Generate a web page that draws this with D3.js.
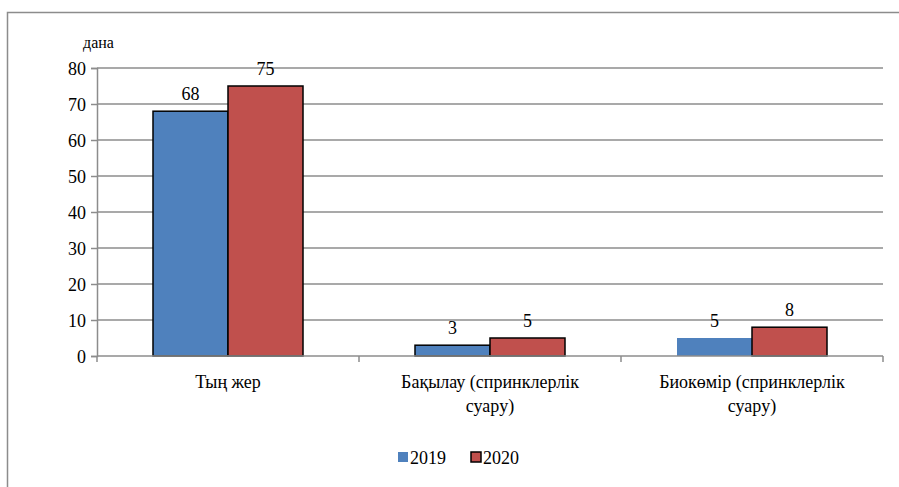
<!DOCTYPE html>
<html>
<head>
<meta charset="utf-8">
<script src="https://cdn.jsdelivr.net/npm/d3@7"></script>
<style>
  body { margin: 0; background: #fff; }
</style>
</head>
<body>
<div id="chart"></div>
<script>
var categories = [["Тың жер"], ["Бақылау (спринклерлік", "суару)"], ["Биокөмір (спринклерлік", "суару)"]];
var seriesNames = ["2019", "2020"];
var values2019 = [68, 3, 5];
var values2020 = [75, 5, 8];
var yTicks = [0, 10, 20, 30, 40, 50, 60, 70, 80];

var width = 899, height = 487;
var colors = ["#4f81bd", "#c0504d"];
var serif = "Liberation Serif";

var svg = d3.select("#chart").append("svg")
    .attr("width", width)
    .attr("height", height);

// outer chart frame
svg.append("rect")
    .attr("x", 7.5).attr("y", 12.5)
    .attr("width", 900).attr("height", 490)
    .attr("fill", "none")
    .attr("stroke", "#8c8c8c")
    .attr("stroke-width", 1.5);

var plotLeft = 97, plotRight = 883, plotTop = 68, plotBottom = 356;

var y = d3.scaleLinear().domain([0, 80]).range([plotBottom, plotTop]);
var x = d3.scaleBand().domain(d3.range(categories.length)).range([plotLeft, plotRight]);

// grid
svg.append("g").selectAll("line")
    .data(yTicks.filter(function(d) { return d > 0; }))
    .enter().append("line")
    .attr("x1", plotLeft).attr("x2", plotRight)
    .attr("y1", function(d) { return y(d); })
    .attr("y2", function(d) { return y(d); })
    .attr("stroke", "#8c8c8c")
    .attr("stroke-width", 1.5);

// y axis
var yAxis = svg.append("g")
    .attr("transform", "translate(" + plotLeft + ",0)")
    .call(d3.axisLeft(y).tickValues(yTicks).tickSize(6).tickPadding(5));
yAxis.select(".domain").attr("stroke", "#8c8c8c").attr("stroke-width", 1.5);
yAxis.selectAll(".tick line").attr("stroke", "#8c8c8c").attr("stroke-width", 1.5);
yAxis.selectAll(".tick text")
    .attr("font-size", 18)
    .attr("dy", "0.35em");

svg.append("text")
    .attr("x", 83).attr("y", 48)
    .attr("font-size", 16)
    .text("дана");

// bars
var groups = svg.append("g").selectAll("g")
    .data(categories)
    .enter().append("g")
    .attr("transform", function(d, i) { return "translate(" + x(i) + ",0)"; });

var barW = 75;
var series = [values2019, values2020];
groups.each(function(c, i) {
    var g = d3.select(this);
    var cx = x.bandwidth() / 2;
    series.forEach(function(vals, s) {
        var bx = cx - barW + s * barW;
        g.append("rect")
            .attr("x", bx)
            .attr("y", y(vals[i]))
            .attr("width", barW)
            .attr("height", y(0) - y(vals[i]))
            .attr("fill", colors[s])
            .attr("stroke", (i === 2 && s === 0) ? "none" : "#000")
            .attr("stroke-width", 1.5);
        g.append("text")
            .attr("x", bx + barW / 2)
            .attr("y", y(vals[i]) - 11)
            .attr("text-anchor", "middle")
            .attr("font-size", 18)
            .text(vals[i]);
    });
});

// x axis
var xAxis = svg.append("g")
    .attr("transform", "translate(0," + plotBottom + ")");
xAxis.append("line")
    .attr("x1", plotLeft).attr("x2", plotRight)
    .attr("stroke", "#8c8c8c").attr("stroke-width", 1.5);
xAxis.selectAll(".xt")
    .data(d3.range(categories.length + 1))
    .enter().append("line")
    .attr("x1", function(d) { return plotLeft + d * x.bandwidth(); })
    .attr("x2", function(d) { return plotLeft + d * x.bandwidth(); })
    .attr("y1", 0).attr("y2", 6)
    .attr("stroke", "#8c8c8c").attr("stroke-width", 1.5);
xAxis.selectAll(".xl")
    .data(categories)
    .enter().append("text")
    .attr("text-anchor", "middle")
    .attr("font-size", 18)
    .each(function(d, i) {
        var t = d3.select(this);
        d.forEach(function(line, k) {
            t.append("tspan")
                .attr("x", x(i) + x.bandwidth() / 2)
                .attr("y", 32 + k * 24)
                .text(line);
        });
    });

// legend
var legend = svg.append("g").attr("transform", "translate(398,452)");
var lx = [0, 73];
seriesNames.forEach(function(name, s) {
    legend.append("rect")
        .attr("x", lx[s]).attr("y", 0)
        .attr("width", 10).attr("height", 10)
        .attr("fill", colors[s])
        .attr("stroke", s === 1 ? "#000" : "none")
        .attr("stroke-width", 1.5);
    legend.append("text")
        .attr("x", lx[s] + 12).attr("y", 12)
        .attr("font-size", 18)
        .text(name);
});

svg.selectAll("g").attr("font-family", serif);
svg.selectAll("text")
    .attr("font-family", serif)
    .attr("fill", "#000");
</script>
</body>
</html>
